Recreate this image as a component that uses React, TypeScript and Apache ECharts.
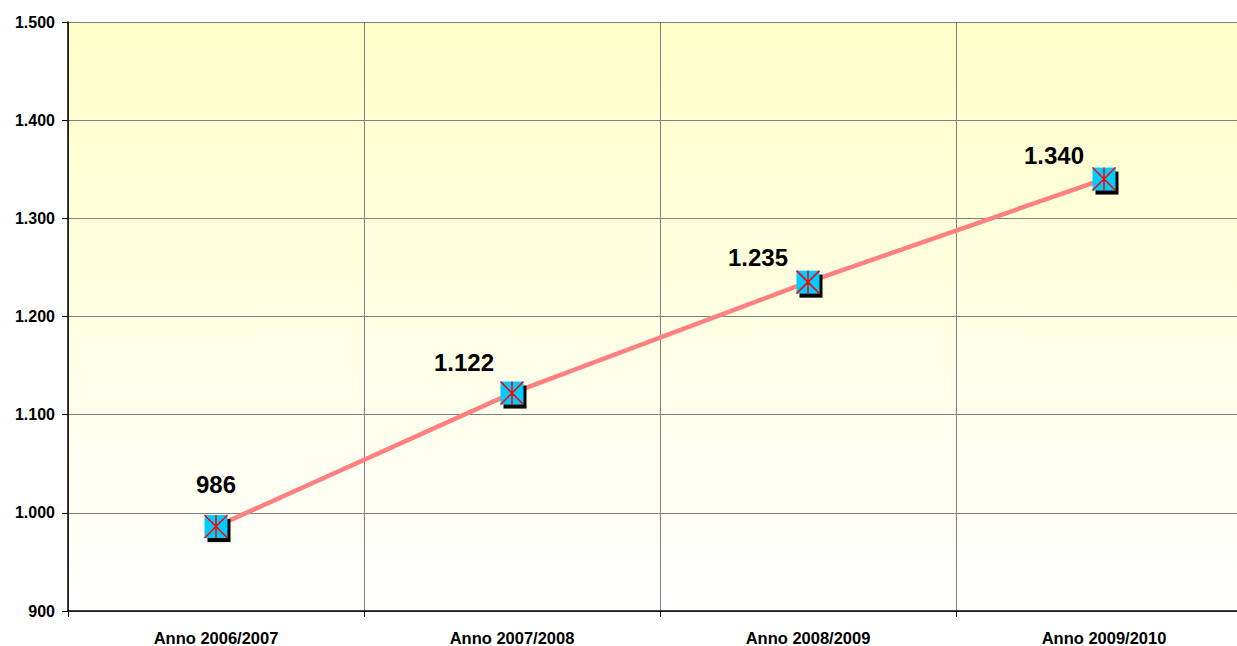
import React, { useEffect, useRef } from "react";
import * as echarts from "echarts";

const categories = ["Anno 2006/2007", "Anno 2007/2008", "Anno 2008/2009", "Anno 2009/2010"];
const values = [986, 1122, 1235, 1340];
const yTicks = { min: 900, max: 1500, interval: 100 };
const labelOffsets = [[0, -42], [-48, -31], [-50, -25], [-50, -24]];

const fmt = (v: number) => {
  const s = String(Math.round(v));
  return s.replace(/\B(?=(\d{3})+(?!\d))/g, ".");
};

export default function App() {
  const ref = useRef<HTMLDivElement>(null);
  useEffect(() => {
    const chart = echarts.init(ref.current!, null, { renderer: "svg" });
    const font = "Liberation Sans, Arial, sans-serif";
    chart.setOption({
      animation: false,
      grid: {
        left: 68,
        top: 22,
        right: 0,
        bottom: 31,
        show: true,
        borderWidth: 0,
        backgroundColor: new echarts.graphic.LinearGradient(0, 0, 0, 1, [
          { offset: 0, color: "#FFFFC8" },
          { offset: 1, color: "#FFFFFF" },
        ]),
      },
      xAxis: {
        type: "category",
        data: categories,
        boundaryGap: true,
        axisLine: { lineStyle: { color: "#000", width: 1.5 } },
        axisTick: { show: true, length: 6, lineStyle: { color: "#000" } },
        axisLabel: { fontFamily: font, fontWeight: "bold", fontSize: 16.5, color: "#000", margin: 18 },
        splitLine: { show: true, lineStyle: { color: "#808080", width: 1 } },
      },
      yAxis: {
        type: "value",
        min: yTicks.min,
        max: yTicks.max,
        interval: yTicks.interval,
        axisLine: { show: true, lineStyle: { color: "#000", width: 1.5 } },
        axisTick: { show: true, length: 6, lineStyle: { color: "#000" } },
        axisLabel: { fontFamily: font, fontWeight: "bold", fontSize: 16, color: "#000", margin: 13, formatter: fmt },
        splitLine: { show: true, lineStyle: { color: "#808080", width: 1 } },
      },
      series: [
        {
          type: "line",
          data: values,
          showSymbol: false,
          symbol: "none",
          lineStyle: { color: "#FF8080", width: 4.5 },
          z: 2,
        },
        {
          type: "scatter",
          data: values,
          symbol: "rect",
          symbolSize: 23,
          symbolOffset: [3, 4],
          itemStyle: { color: "#000", opacity: 1 },
          z: 3,
        },
        {
          type: "scatter",
          data: values.map((v, i) => ({
            value: v,
            label: { offset: labelOffsets[i] },
          })),
          symbol: "rect",
          symbolSize: 23,
          itemStyle: { color: "#00CCFF", opacity: 1 },
          label: {
            show: true,
            position: "inside",
            formatter: (p: any) => fmt(p.value),
            fontFamily: font,
            fontWeight: "bold",
            fontSize: 24,
            color: "#000",
          },
          z: 4,
        },
        {
          type: "scatter",
          data: values,
          symbol: "path://M0 0L20 20M20 0L0 20M10 0L10 20",
          symbolSize: 23,
          itemStyle: { color: "none", borderColor: "#FF0000", borderWidth: 1.5, opacity: 1 },
          z: 5,
        },
      ],
    });
    return () => chart.dispose();
  }, []);
  return (
    <div
      style={{ position: "fixed", left: 0, top: 0, width: 1237, height: 646, overflow: "hidden", background: "#fff" }}
    >
      <div ref={ref} style={{ width: 1252, height: 646 }} />
    </div>
  );
}
